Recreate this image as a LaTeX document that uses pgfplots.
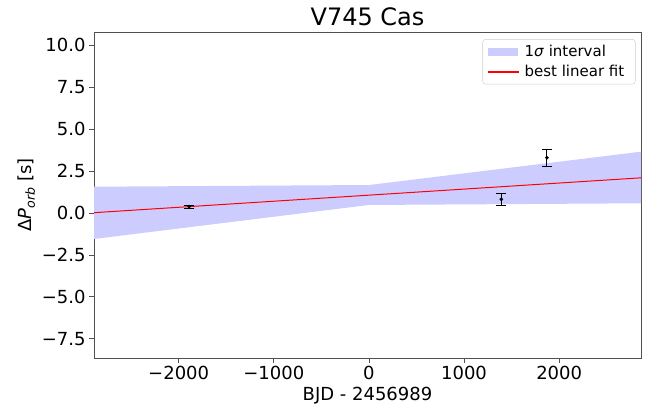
\documentclass[border=0pt]{standalone}
\usepackage{pgfplots}
\pgfplotsset{compat=1.18}
\usepackage{fontspec}
\setmainfont{DejaVu Sans}
\definecolor{band}{RGB}{204,204,255}
\definecolor{frame}{RGB}{80,80,80}
\definecolor{legred}{RGB}{255,80,80}
\pgfplotsset{
  myarea/.style={legend image code/.code={
    \fill[fill=band, sharp corners] (0bp,-4bp) rectangle (30bp,4bp);}},
  myline/.style={legend image code/.code={
    \fill[fill=legred, sharp corners] (0bp,-0.65bp) rectangle (30bp,0.65bp);}},
}
\begin{document}
\begin{tikzpicture}
\path (0,0) rectangle (668bp,414bp);
\begin{axis}[
  at={(94bp,56bp)}, anchor=south west,
  scale only axis, width=547bp, height=326bp,
  xmin=-2890, xmax=2860, ymin=-8.65, ymax=10.8,
  axis line style={frame, line width=0.8bp},
  tick style={frame, line width=0.8bp},
  tick pos=left, tick align=outside, major tick length=5bp,
  xtick={-2000,-1000,0,1000,2000},
  xticklabels={−2000,−1000,0,1000,2000},
  ytick={-7.5,-5,-2.5,0,2.5,5,7.5,10},
  yticklabels={−7.5,−5.0,−2.5,0.0,2.5,5.0,7.5,10.0},
  ticklabel style={font=\fontsize{18bp}{20bp}\selectfont},
  xlabel={BJD - 2456989},
  ylabel={Δ\textit{P}\textsubscript{\textit{orb}} [s]},
  label style={font=\fontsize{18bp}{20bp}\selectfont},
  title={V745 Cas},
  title style={font=\fontsize{24bp}{28bp}\selectfont, yshift=-3bp},
  legend style={at={(0.99,0.978)}, anchor=north east,
    draw=black!20, rounded corners=3bp,
    font=\fontsize{15bp}{18bp}\selectfont,
    inner xsep=5bp, inner ysep=4bp, row sep=3bp,
    nodes={inner xsep=6bp}},
  legend cell align=left,
]
\addplot[fill=band, draw=none, myarea] coordinates {
  (-2890,1.57) (0,1.67) (2860,3.66) (2860,0.58) (0,0.48) (-2890,-1.55)
} -- cycle;
\addlegendentry{1\textit{σ} interval}
\addplot[red, line width=1bp, myline]
  coordinates {(-2890,0.02) (2860,2.10)};
\addlegendentry{best linear fit}
\addplot[only marks, mark=*, mark size=1.6bp, black, forget plot,
  error bars/.cd, y dir=both, y explicit,
  error bar style={line width=0.9bp},
  error mark options={rotate=90, mark size=5bp, line width=0.9bp}]
  coordinates {
  (-1890,0.38) +- (0,0.08)
  (1392,0.82) +- (0,0.35)
  (1871,3.30) +- (0,0.50)
};
\end{axis}
\end{tikzpicture}
\end{document}
